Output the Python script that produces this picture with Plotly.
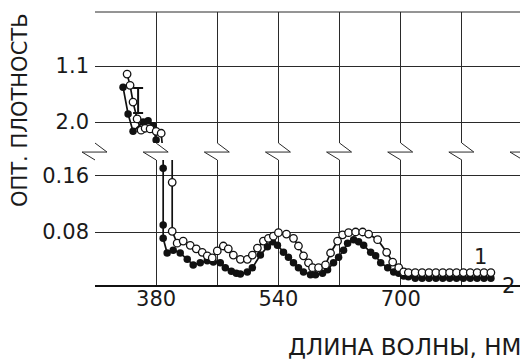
import plotly.graph_objects as go

# ---------------- data ----------------
# upper (broken-axis) panel
wl_up_2 = [336.7, 343.3, 349.8, 363.0, 369.5, 376.1, 380.0, 384.0]
od_up_2 = [1.44, 1.87, 2.15, 2.00, 1.98, 2.06, 2.29, 2.70]
wl_up_1 = [342.0, 345.9, 349.8, 355.1, 360.3, 365.6, 372.1, 380.0, 386.6, 390.5]
od_up_1 = [1.23, 1.41, 1.68, 1.95, 2.13, 2.10, 2.11, 2.15, 2.18, 2.70]
err_wl = [356.4]
err_od = [1.654]
err_half = [0.20]

# lower panel, curve 2 (filled)
wl_lo_2 = [389.2, 389.2, 389.2, 389.2, 394.4, 402.3, 411.5, 420.7, 428.5, 437.7,
           446.9, 454.8, 463.9, 470.5, 478.4, 484.9, 490.2, 499.3, 505.9, 516.4,
           525.6, 532.1, 538.7, 546.6, 553.1, 559.7, 566.2, 572.8, 582.0, 588.5,
           597.7, 604.3, 612.1, 618.7, 625.2, 630.5, 638.4, 644.9, 651.5, 660.7,
           667.2, 673.8, 683.0, 690.8, 697.4, 703.9, 710.0, 719.0, 728.0, 737.0,
           746.0, 755.0, 764.0, 773.0, 782.0, 791.0, 800.0, 809.0, 818.0]
od_lo_2 = [0.25, 0.171, 0.090, 0.071, 0.050, 0.054, 0.050, 0.041, 0.033, 0.036,
           0.039, 0.037, 0.036, 0.029, 0.024, 0.021, 0.020, 0.023, 0.029, 0.047,
           0.059, 0.066, 0.061, 0.051, 0.044, 0.036, 0.029, 0.023, 0.019, 0.019,
           0.021, 0.026, 0.036, 0.044, 0.054, 0.064, 0.069, 0.066, 0.061, 0.051,
           0.046, 0.036, 0.029, 0.023, 0.021, 0.017, 0.016, 0.014, 0.014, 0.014,
           0.014, 0.014, 0.014, 0.014, 0.014, 0.014, 0.014, 0.014, 0.014]

# lower panel, curve 1 (open)
wl_lo_1 = [401.0, 401.0, 401.0, 407.5, 415.4, 424.6, 432.5, 440.3, 446.9, 453.4,
           460.0, 467.9, 474.4, 481.0, 490.2, 499.3, 505.9, 512.5, 520.3, 526.9,
           533.4, 540.0, 550.5, 559.7, 566.2, 572.8, 579.3, 584.6, 592.5, 601.6,
           608.2, 617.4, 623.9, 631.8, 641.0, 650.2, 658.0, 669.8, 681.6, 689.5,
           697.4, 703.9, 710.0, 719.0, 728.0, 737.0, 746.0, 755.0, 764.0, 773.0,
           782.0, 791.0, 800.0, 809.0, 818.0]
od_lo_1 = [0.25, 0.151, 0.081, 0.064, 0.067, 0.061, 0.056, 0.051, 0.046, 0.043,
           0.053, 0.060, 0.056, 0.047, 0.041, 0.041, 0.047, 0.057, 0.067, 0.071,
           0.074, 0.079, 0.077, 0.071, 0.060, 0.046, 0.036, 0.029, 0.029, 0.033,
           0.050, 0.067, 0.076, 0.079, 0.080, 0.080, 0.077, 0.069, 0.051, 0.037,
           0.029, 0.023, 0.022, 0.022, 0.022, 0.022, 0.022, 0.022, 0.022, 0.022,
           0.022, 0.022, 0.022, 0.022, 0.022]

x_grid = [300, 380, 460, 540, 620, 700, 780, 860]
x_labels = ["", "380", "", "540", "", "700", "", ""]
y_lo_ticks = [0.08, 0.16]
y_lo_labels = ["0.08", "0.16"]
y_up_ticks = [1.1, 2.0]
y_up_labels = ["1.1", "2.0"]

FONT = "DejaVu Sans"
FS = 21
GRID = "#2a2a2a"
INK = "#111111"
TXT = "#1a1a1a"

fig = go.Figure()

filled = dict(mode="lines+markers", line=dict(color=INK, width=1.7),
              marker=dict(symbol="circle", size=7.5, color=INK), showlegend=False)
opened = dict(mode="lines+markers", line=dict(color=INK, width=1.7),
              marker=dict(symbol="circle", size=7.5, color="white",
                          line=dict(color=INK, width=1.3)), showlegend=False)

fig.add_trace(go.Scatter(x=wl_lo_2, y=od_lo_2, xaxis="x", yaxis="y", **filled))
fig.add_trace(go.Scatter(x=wl_lo_1, y=od_lo_1, xaxis="x", yaxis="y", **opened))
fig.add_trace(go.Scatter(x=wl_up_2, y=od_up_2, xaxis="x", yaxis="y2", **filled))
fig.add_trace(go.Scatter(x=wl_up_1, y=od_up_1, xaxis="x", yaxis="y2", **opened))
fig.add_trace(go.Scatter(x=err_wl, y=err_od, xaxis="x", yaxis="y2", mode="markers",
                         marker=dict(size=1, color="rgba(0,0,0,0)"),
                         error_y=dict(type="data", array=err_half, color=INK,
                                      thickness=2, width=5),
                         showlegend=False))

Y_UP0, Y_BRK, Y_LO1 = 0.520, 0.487, 0.458

# page has an 8px body margin: figure is shrunk/shifted to compensate
fig.update_layout(
    width=520, height=355,
    margin=dict(l=87, r=5, t=4, b=78),
    paper_bgcolor="white", plot_bgcolor="white",
    font=dict(family=FONT, size=FS, color=TXT),
    xaxis=dict(range=[300, 860], tickvals=x_grid, ticktext=x_labels,
               showgrid=True, gridcolor=GRID, gridwidth=1, zeroline=False,
               showline=True, linecolor=INK, linewidth=1.5, ticks="",
               anchor="y", ticklabelstandoff=-6, automargin=False),
    yaxis=dict(domain=[0, Y_LO1], range=[0.0043, 0.1829], tickvals=y_lo_ticks,
               ticktext=y_lo_labels, showgrid=True, gridcolor=GRID, gridwidth=1,
               zeroline=False, showline=False, ticks="", anchor="x",
               ticklabelstandoff=5, automargin=False),
    yaxis2=dict(domain=[Y_UP0, 1], range=[2.3375, 0.232], tickvals=y_up_ticks,
                ticktext=y_up_labels, showgrid=True, gridcolor=GRID, gridwidth=1,
                zeroline=False, showline=False, ticks="", anchor="x",
                ticklabelstandoff=5, automargin=False),
)

# break zig-zags on each vertical grid line
shapes = []
dxr, dxl = 12 / 428, 13 / 428
for X in x_grid:
    xp = (X - 300) / 560
    seg = [((xp, Y_UP0), (xp + dxr, Y_BRK)),
           ((xp + dxr, Y_BRK), (xp - dxl, Y_BRK)),
           ((xp - dxl, Y_BRK), (xp, Y_LO1))]
    for (x0, y0), (x1, y1) in seg:
        shapes.append(dict(type="line", xref="paper", yref="paper", x0=x0, y0=y0,
                           x1=x1, y1=y1, line=dict(color=GRID, width=1)))
shapes.append(dict(type="line", xref="paper", yref="paper", x0=0, y0=1, x1=1, y1=1,
                   line=dict(color=GRID, width=1)))
fig.update_layout(shapes=shapes)

fig.add_annotation(text="ОПТ. ПЛОТНОСТЬ", xref="paper", yref="paper",
                   x=-0.175, y=0.641, xanchor="center", yanchor="middle",
                   textangle=-90, showarrow=False,
                   font=dict(size=FS, family=FONT, color=TXT))
fig.add_annotation(text="ДЛИНА ВОЛНЫ, НМ", xref="paper", yref="paper",
                   x=1.0, y=-0.227, xanchor="right", yanchor="middle", showarrow=False,
                   font=dict(size=23, family=FONT, color=TXT))
fig.add_annotation(text="1", xref="x", yref="y", x=805, y=0.0443, showarrow=False,
                   xanchor="center", yanchor="middle",
                   font=dict(size=FS, family=FONT, color=TXT))
fig.add_annotation(text="2", xref="paper", yref="paper", x=0.967, y=-0.005,
                   xanchor="center", yanchor="middle",
                   showarrow=False, font=dict(size=FS, family=FONT, color=TXT))

fig.write_html("out.html")
